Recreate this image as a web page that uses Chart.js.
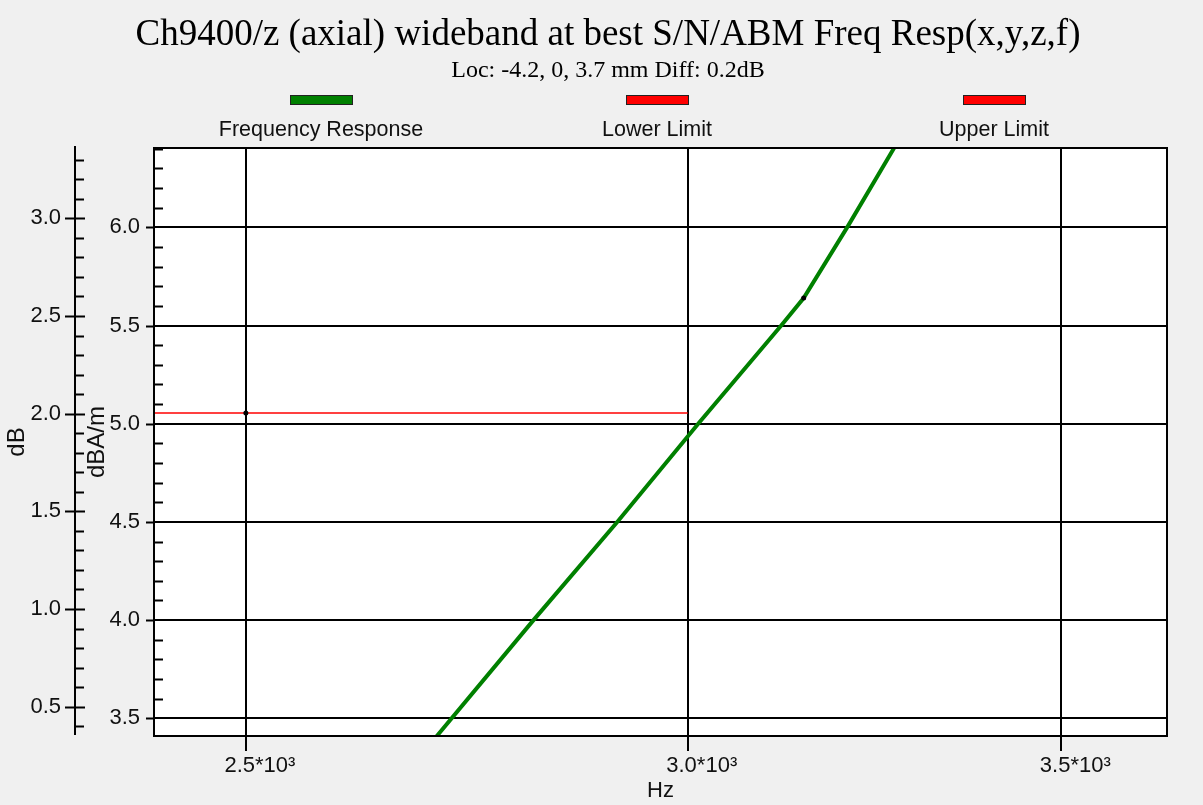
<!DOCTYPE html>
<html>
<head>
<meta charset="utf-8">
<script src="https://cdn.jsdelivr.net/npm/chart.js@4.4.1/dist/chart.umd.min.js"></script>
<style>
  html, body { margin: 0; padding: 0; background: #f0f0f0; }
  #wrap { position: relative; width: 1203px; height: 805px; overflow: hidden; }
  #chart { position: absolute; left: 0; top: 0; }
  .title { position: absolute; left: 0; width: 1216px; text-align: center; font-family: "Liberation Serif", "Times New Roman", serif; color: #000; white-space: nowrap; }
  #t1 { top: 11px; font-size: 37px; line-height: 44px; }
  #t2 { top: 55px; font-size: 24px; line-height: 28px; }
  .item { position: absolute; top: 95px; width: 300px; margin-left: -150px; text-align: center; font-family: "Liberation Sans", Arial, sans-serif; font-size: 21.5px; line-height: 24px; color: #111; }
  .item .sw { width: 61px; height: 8px; border: 1px solid #222; margin: 0 auto 12px; }
</style>
</head>
<body>
<div id="wrap">
  <canvas id="chart" width="1203" height="805"></canvas>
  <div class="title" id="t1">Ch9400/z (axial) wideband at best S/N/ABM Freq Resp(x,y,z,f)</div>
  <div class="title" id="t2">Loc: -4.2, 0, 3.7 mm Diff: 0.2dB</div>
  <div id="legend"></div>
</div>
<script>
// data (Hz, dBA/m)
const freq = [2687, 2705, 2815, 2914, 3013, 3118, 3147, 3204, 3266, 3282];
const response = [3.31, 3.41, 4.00, 4.50, 5.00, 5.50, 5.64, 6.00, 6.40, 6.51];
const markerFreq = 3147;

const lowerFreq = [2400, 2500, 3000];
const lowerLevel = [5.055, 5.055, 5.055];
const lowerMarker = 2500;

const upperFreq = [];
const upperLevel = [];

const xTicks = [2500, 3000, 3500];
const yTicks = [3.5, 4.0, 4.5, 5.0, 5.5, 6.0];
const dbTicks = [0.5, 1.0, 1.5, 2.0, 2.5, 3.0];

const legendX = [321, 657, 994];

const tickFont = { family: 'Liberation Sans', size: 22 };
const titleFont = { family: 'Liberation Sans', size: 24 };
const txt = '#111';

function pts(xs, ys) {
  return xs.map((x, i) => ({ x: x, y: ys[i] }));
}

const plotBg = {
  id: 'plotBg',
  beforeDraw(chart) {
    const { ctx, chartArea: a } = chart;
    ctx.save();
    ctx.fillStyle = '#fff';
    ctx.fillRect(a.left, a.top, a.right - a.left, a.bottom - a.top);
    ctx.restore();
  }
};

const axisTicks = {
  id: 'axisTicks',
  afterDraw(chart) {
    const { ctx, chartArea: a, scales } = chart;
    const y = scales.y, y2 = scales.y2;
    ctx.save();
    ctx.strokeStyle = '#000';
    ctx.lineWidth = 2;
    ctx.strokeRect(a.left, a.top, a.right - a.left, a.bottom - a.top);

    // inner axis (dBA/m)
    for (let v = 3.5; v <= y.max + 1e-6; v += 0.1) {
      const p = Math.round(y.getPixelForValue(v)) + 0.5;
      const major = yTicks.some(t => Math.abs(t - v) < 1e-6);
      ctx.beginPath();
      if (major) { ctx.moveTo(a.left - 8, p); ctx.lineTo(a.left, p); }
      else { ctx.moveTo(a.left, p); ctx.lineTo(a.left + 9, p); }
      ctx.stroke();
    }
    // outer axis (dB)
    const ox = y2.right;
    for (let v = 0.4; v <= y2.max + 1e-6; v += 0.1) {
      const p = Math.round(y2.getPixelForValue(v)) + 0.5;
      const major = dbTicks.some(t => Math.abs(t - v) < 1e-6);
      ctx.beginPath();
      if (major) { ctx.moveTo(ox - 10, p); ctx.lineTo(ox + 10, p); }
      else { ctx.moveTo(ox, p); ctx.lineTo(ox + 9, p); }
      ctx.stroke();
    }
    ctx.beginPath();
    ctx.moveTo(ox, a.top - 2);
    ctx.lineTo(ox, a.bottom - 1);
    ctx.stroke();
    ctx.restore();
  }
};

const chart = new Chart(document.getElementById('chart'), {
  type: 'line',
  data: {
    datasets: [
      {
        label: 'Frequency Response',
        data: pts(freq, response),
        borderColor: '#008000',
        backgroundColor: '#008000',
        borderWidth: 4,
        pointRadius: freq.map(f => f === markerFreq ? 2.5 : 0),
        pointBackgroundColor: '#000',
        pointBorderWidth: 0,
        yAxisID: 'y'
      },
      {
        label: 'Lower Limit',
        data: pts(lowerFreq, lowerLevel),
        borderColor: '#ff0000',
        backgroundColor: '#ff0000',
        borderWidth: 1.5,
        pointRadius: lowerFreq.map(f => f === lowerMarker ? 2.5 : 0),
        pointBackgroundColor: '#000',
        pointBorderWidth: 0,
        yAxisID: 'y'
      },
      {
        label: 'Upper Limit',
        data: pts(upperFreq, upperLevel),
        borderColor: '#ff0000',
        backgroundColor: '#ff0000',
        borderWidth: 1.5,
        pointRadius: 0,
        yAxisID: 'y'
      }
    ]
  },
  options: {
    responsive: false,
    animation: false,
    layout: { padding: { top: 148, right: 36, left: 0, bottom: 0 } },
    plugins: {
      legend: { display: false },
      title: { display: false },
      tooltip: { enabled: false }
    },
    scales: {
      x: {
        type: 'logarithmic',
        position: 'bottom',
        min: 2407,
        max: 3656,
        bounds: 'data',
        afterBuildTicks: s => { s.ticks = xTicks.map(v => ({ value: v })); },
        afterFit: s => { s.height = 69; },
        ticks: {
          callback: v => (v / 1000).toFixed(1) + '*10\u00b3',
          labelOffset: 14,
          padding: 2,
          maxRotation: 0,
          autoSkip: false,
          font: tickFont,
          color: txt
        },
        grid: { color: '#000', lineWidth: 2, tickLength: 15 },
        border: { display: false },
        title: { display: true, text: 'Hz', font: tickFont, color: txt, padding: { top: 0, bottom: 1 } }
      },
      y: {
        type: 'linear',
        position: 'left',
        weight: 0,
        min: 3.41,
        max: 6.404,
        afterBuildTicks: s => { s.ticks = yTicks.map(v => ({ value: v })); },
        afterFit: s => { s.width = 79; },
        ticks: { callback: v => v.toFixed(1), padding: 14, font: tickFont, color: txt },
        grid: { color: '#000', lineWidth: 2, drawTicks: false },
        border: { display: false },
        title: { display: true, text: 'dBA/m', font: titleFont, color: txt, padding: { top: 8, bottom: 0 } }
      },
      y2: {
        type: 'linear',
        position: 'left',
        weight: 1,
        min: 0.35,
        max: 3.36,
        afterBuildTicks: s => { s.ticks = dbTicks.map(v => ({ value: v })); },
        afterFit: s => { s.width = 75; },
        ticks: { callback: v => v.toFixed(1), padding: 14, font: tickFont, color: txt },
        grid: { drawOnChartArea: false, drawTicks: false },
        border: { display: false },
        title: { display: true, text: 'dB', font: titleFont, color: txt, padding: { top: 3, bottom: 0 } }
      }
    }
  },
  plugins: [plotBg, axisTicks]
});

const legend = document.getElementById('legend');
chart.data.datasets.forEach((ds, i) => {
  const item = document.createElement('div');
  item.className = 'item';
  item.style.left = legendX[i] + 'px';
  item.innerHTML = '<div class="sw" style="background:' + ds.borderColor + '"></div>' + ds.label;
  legend.appendChild(item);
});
</script>
</body>
</html>
